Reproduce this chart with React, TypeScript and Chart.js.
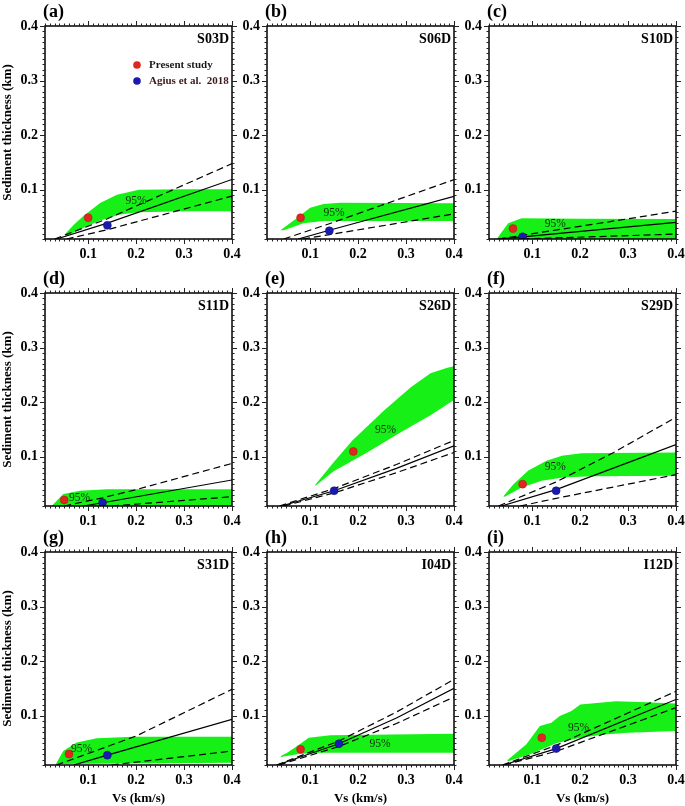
import React, { useEffect, useRef } from 'react';
import { Chart, registerables } from 'chart.js';

Chart.register(...registerables);

type Pt = [number, number];

const FONT = '"Liberation Serif", "Times New Roman", serif';
const AXIS_MIN = 0.01;
const AXIS_MAX = 0.4;
const MAJOR_TICKS = [0.1, 0.2, 0.3, 0.4];
const MINOR_STEP = 0.01;

const LETTERS = ['(a)', '(b)', '(c)', '(d)', '(e)', '(f)', '(g)', '(h)', '(i)'];
const STATIONS = ['S03D', 'S06D', 'S10D', 'S11D', 'S26D', 'S29D', 'S31D', 'I04D', 'I12D'];
const LEGEND_LABELS = ['Present study', 'Agius et al.  2018'];
const X_TITLE = 'Vs (km/s)';
const Y_TITLE = 'Sediment thickness (km)';
const CONF_LABEL = '95%';

// ---- (a) S03D
const S03D_UPPER: Pt[] = [[0.052, 0.019], [0.07, 0.036], [0.09, 0.052], [0.125, 0.076], [0.16, 0.091], [0.206, 0.1], [0.3, 0.101], [0.4, 0.101]];
const S03D_LOWER: Pt[] = [[0.4, 0.061], [0.3, 0.061], [0.206, 0.059], [0.166, 0.055], [0.125, 0.044], [0.097, 0.033], [0.055, 0.016]];
const S03D_SOLID: Pt[] = [[0.034, 0.01], [0.14, 0.039], [0.4, 0.119]];
const S03D_HI: Pt[] = [[0.03, 0.01], [0.14, 0.047], [0.4, 0.148]];
const S03D_LO: Pt[] = [[0.055, 0.01], [0.14, 0.027], [0.4, 0.0886]];
const S03D_PRESENT: Pt = [0.1, 0.049];
const S03D_AGIUS: Pt = [0.14, 0.035];
const S03D_LABEL: Pt = [0.2, 0.08];

// ---- (b) S06D
const S06D_UPPER: Pt[] = [[0.038, 0.026], [0.072, 0.048], [0.1, 0.067], [0.128, 0.074], [0.163, 0.0766], [0.4, 0.0755]];
const S06D_LOWER: Pt[] = [[0.4, 0.043], [0.128, 0.043], [0.086, 0.039], [0.045, 0.026]];
const S06D_SOLID: Pt[] = [[0.075, 0.01], [0.14, 0.026], [0.4, 0.088]];
const S06D_HI: Pt[] = [[0.045, 0.01], [0.14, 0.038], [0.4, 0.1186]];
const S06D_LO: Pt[] = [[0.085, 0.01], [0.14, 0.018], [0.4, 0.056]];
const S06D_PRESENT: Pt = [0.08, 0.049];
const S06D_AGIUS: Pt = [0.14, 0.025];
const S06D_LABEL: Pt = [0.15, 0.058];

// ---- (c) S10D
const S10D_UPPER: Pt[] = [[0.026, 0.01], [0.05, 0.039], [0.078, 0.048], [0.2, 0.047], [0.4, 0.0466]];
const S10D_LOWER: Pt[] = [[0.4, 0.01], [0.026, 0.01]];
const S10D_SOLID: Pt[] = [[0.03, 0.01], [0.08, 0.014], [0.4, 0.0405]];
const S10D_HI: Pt[] = [[0.03, 0.01], [0.3, 0.047], [0.4, 0.061]];
const S10D_LO: Pt[] = [[0.08, 0.01], [0.4, 0.019]];
const S10D_PRESENT: Pt = [0.06, 0.029];
const S10D_AGIUS: Pt = [0.08, 0.014];
const S10D_LABEL: Pt = [0.148, 0.038];

// ---- (d) S11D
const S11D_UPPER: Pt[] = [[0.024, 0.01], [0.048, 0.032], [0.083, 0.038], [0.139, 0.0405], [0.4, 0.0405]];
const S11D_LOWER: Pt[] = [[0.4, 0.01], [0.024, 0.01]];
const S11D_SOLID: Pt[] = [[0.09, 0.01], [0.13, 0.016], [0.4, 0.0576]];
const S11D_HI: Pt[] = [[0.05, 0.01], [0.13, 0.025], [0.2, 0.04], [0.4, 0.088]];
const S11D_LO: Pt[] = [[0.15, 0.01], [0.4, 0.027]];
const S11D_PRESENT: Pt = [0.05, 0.021];
const S11D_AGIUS: Pt = [0.13, 0.016];
const S11D_LABEL: Pt = [0.082, 0.024];

// ---- (e) S26D
const S26D_UPPER: Pt[] = [[0.109, 0.047], [0.149, 0.09], [0.188, 0.13], [0.254, 0.185], [0.31, 0.2275], [0.351, 0.253], [0.386, 0.263], [0.4, 0.266]];
const S26D_LOWER: Pt[] = [[0.4, 0.204], [0.351, 0.176], [0.289, 0.145], [0.219, 0.108], [0.149, 0.0735], [0.114, 0.049]];
const S26D_SOLID: Pt[] = [[0.04, 0.01], [0.15, 0.038], [0.28, 0.079], [0.4, 0.12]];
const S26D_HI: Pt[] = [[0.036, 0.01], [0.15, 0.042], [0.28, 0.086], [0.4, 0.13]];
const S26D_LO: Pt[] = [[0.045, 0.01], [0.15, 0.034], [0.28, 0.071], [0.4, 0.108]];
const S26D_PRESENT: Pt = [0.19, 0.11];
const S26D_AGIUS: Pt = [0.15, 0.038];
const S26D_LABEL: Pt = [0.257, 0.15];

// ---- (f) S29D
const S29D_UPPER: Pt[] = [[0.04, 0.028], [0.061, 0.05], [0.092, 0.075], [0.13, 0.093], [0.162, 0.102], [0.203, 0.1065], [0.4, 0.108]];
const S29D_LOWER: Pt[] = [[0.4, 0.0656], [0.231, 0.0644], [0.168, 0.0625], [0.12, 0.0564], [0.078, 0.044], [0.043, 0.027]];
const S29D_SOLID: Pt[] = [[0.036, 0.01], [0.15, 0.04], [0.4, 0.1224]];
const S29D_HI: Pt[] = [[0.03, 0.01], [0.15, 0.054], [0.27, 0.108], [0.4, 0.1725]];
const S29D_LO: Pt[] = [[0.075, 0.01], [0.15, 0.024], [0.4, 0.0674]];
const S29D_PRESENT: Pt = [0.08, 0.05];
const S29D_AGIUS: Pt = [0.15, 0.038];
const S29D_LABEL: Pt = [0.148, 0.081];

// ---- (g) S31D
const S31D_UPPER: Pt[] = [[0.033, 0.0124], [0.048, 0.0356], [0.076, 0.051], [0.118, 0.0588], [0.194, 0.0618], [0.4, 0.0618]];
const S31D_LOWER: Pt[] = [[0.4, 0.014], [0.033, 0.012]];
const S31D_SOLID: Pt[] = [[0.07, 0.01], [0.14, 0.028], [0.4, 0.0936]];
const S31D_HI: Pt[] = [[0.034, 0.01], [0.2, 0.063], [0.4, 0.1485]];
const S31D_LO: Pt[] = [[0.149, 0.01], [0.4, 0.0356]];
const S31D_PRESENT: Pt = [0.06, 0.03];
const S31D_AGIUS: Pt = [0.14, 0.028];
const S31D_LABEL: Pt = [0.086, 0.039];

// ---- (h) I04D
const I04D_UPPER: Pt[] = [[0.039, 0.0265], [0.052, 0.0326], [0.073, 0.0448], [0.097, 0.06], [0.142, 0.0643], [0.4, 0.0673]];
const I04D_LOWER: Pt[] = [[0.4, 0.0326], [0.114, 0.0326], [0.073, 0.0295], [0.039, 0.0246]];
const I04D_SOLID: Pt[] = [[0.031, 0.01], [0.16, 0.049], [0.28, 0.096], [0.4, 0.1503]];
const I04D_HI: Pt[] = [[0.03, 0.01], [0.16, 0.054], [0.28, 0.107], [0.4, 0.1668]];
const I04D_LO: Pt[] = [[0.035, 0.01], [0.16, 0.044], [0.28, 0.086], [0.4, 0.1344]];
const I04D_PRESENT: Pt = [0.08, 0.039];
const I04D_AGIUS: Pt = [0.16, 0.049];
const I04D_LABEL: Pt = [0.246, 0.049];

// ---- (i) I12D
const I12D_UPPER: Pt[] = [[0.048, 0.0186], [0.0675, 0.0327], [0.088, 0.0478], [0.116, 0.0813], [0.14, 0.0875], [0.1575, 0.0996], [0.182, 0.1087], [0.2005, 0.121], [0.275, 0.1265], [0.338, 0.125], [0.4, 0.1228]];
const I12D_LOWER: Pt[] = [[0.4, 0.0722], [0.3, 0.069], [0.25, 0.066], [0.2, 0.06], [0.15, 0.05], [0.1, 0.031], [0.05, 0.017]];
const I12D_SOLID: Pt[] = [[0.04, 0.01], [0.15, 0.04], [0.4, 0.13]];
const I12D_HI: Pt[] = [[0.038, 0.01], [0.15, 0.046], [0.4, 0.145]];
const I12D_LO: Pt[] = [[0.042, 0.01], [0.15, 0.035], [0.4, 0.115]];
const I12D_PRESENT: Pt = [0.12, 0.06];
const I12D_AGIUS: Pt = [0.15, 0.04];
const I12D_LABEL: Pt = [0.197, 0.078];

type Panel = {
  upper: Pt[]; lower: Pt[]; solid: Pt[]; hi: Pt[]; lo: Pt[];
  present: Pt; agius: Pt; label: Pt;
};

const PANELS: Panel[] = [
  { upper: S03D_UPPER, lower: S03D_LOWER, solid: S03D_SOLID, hi: S03D_HI, lo: S03D_LO, present: S03D_PRESENT, agius: S03D_AGIUS, label: S03D_LABEL },
  { upper: S06D_UPPER, lower: S06D_LOWER, solid: S06D_SOLID, hi: S06D_HI, lo: S06D_LO, present: S06D_PRESENT, agius: S06D_AGIUS, label: S06D_LABEL },
  { upper: S10D_UPPER, lower: S10D_LOWER, solid: S10D_SOLID, hi: S10D_HI, lo: S10D_LO, present: S10D_PRESENT, agius: S10D_AGIUS, label: S10D_LABEL },
  { upper: S11D_UPPER, lower: S11D_LOWER, solid: S11D_SOLID, hi: S11D_HI, lo: S11D_LO, present: S11D_PRESENT, agius: S11D_AGIUS, label: S11D_LABEL },
  { upper: S26D_UPPER, lower: S26D_LOWER, solid: S26D_SOLID, hi: S26D_HI, lo: S26D_LO, present: S26D_PRESENT, agius: S26D_AGIUS, label: S26D_LABEL },
  { upper: S29D_UPPER, lower: S29D_LOWER, solid: S29D_SOLID, hi: S29D_HI, lo: S29D_LO, present: S29D_PRESENT, agius: S29D_AGIUS, label: S29D_LABEL },
  { upper: S31D_UPPER, lower: S31D_LOWER, solid: S31D_SOLID, hi: S31D_HI, lo: S31D_LO, present: S31D_PRESENT, agius: S31D_AGIUS, label: S31D_LABEL },
  { upper: I04D_UPPER, lower: I04D_LOWER, solid: I04D_SOLID, hi: I04D_HI, lo: I04D_LO, present: I04D_PRESENT, agius: I04D_AGIUS, label: I04D_LABEL },
  { upper: I12D_UPPER, lower: I12D_LOWER, solid: I12D_SOLID, hi: I12D_HI, lo: I12D_LO, present: I12D_PRESENT, agius: I12D_AGIUS, label: I12D_LABEL },
];

// layout (pixels)
const COL_LEFT = [45, 267, 489];
const ROW_TOP = [26, 293, 552];
const PLOT_W = 187;
const PLOT_H = 213;
const PAD_L = 45;
const PAD_T = 26;
const PAD_R = 14;
const PAD_B = 43;

const GREEN = 'rgb(22,240,22)';
const RED = '#e0261f';
const BLUE = '#1a1ab0';

const toXY = (pts: Pt[]) => pts.map(([x, y]) => ({ x, y }));

const decorPlugin = {
  id: 'decor',
  afterDatasetsDraw(chart: any, _args: any, opts: any) {
    const { ctx, chartArea: a, scales } = chart;
    const xs = scales.x;
    const ys = scales.y;
    const idx: number = opts.index;
    const p: Panel = PANELS[idx];
    const col = idx % 3;
    const row = Math.floor(idx / 3);
    ctx.save();

    // frame
    ctx.strokeStyle = '#000';
    ctx.lineWidth = 1.5;
    ctx.strokeRect(a.left, a.top, a.right - a.left, a.bottom - a.top);

    // ticks on all four sides
    ctx.lineWidth = 1;
    ctx.strokeStyle = '#222';
    ctx.beginPath();
    const n = Math.round((AXIS_MAX - AXIS_MIN) / MINOR_STEP);
    for (let i = 0; i <= n; i++) {
      const v = AXIS_MIN + i * MINOR_STEP;
      const major = MAJOR_TICKS.some((m) => Math.abs(m - v) < 1e-6);
      const len = major ? 5 : 2.5;
      const px = Math.round(xs.getPixelForValue(v)) + 0.5;
      ctx.moveTo(px, a.bottom); ctx.lineTo(px, a.bottom + len);
      ctx.moveTo(px, a.top); ctx.lineTo(px, a.top - len);
      const py = Math.round(ys.getPixelForValue(v)) + 0.5;
      ctx.moveTo(a.left, py); ctx.lineTo(a.left - len, py);
      ctx.moveTo(a.right, py); ctx.lineTo(a.right + len, py);
    }
    ctx.stroke();

    ctx.fillStyle = '#000';
    ctx.textBaseline = 'middle';

    // panel letter
    ctx.font = `bold 18px ${FONT}`;
    ctx.textAlign = 'left';
    ctx.fillText(LETTERS[idx], a.left - 2, a.top - 14);

    // station label
    ctx.font = `bold 14px ${FONT}`;
    ctx.textAlign = 'right';
    ctx.fillText(STATIONS[idx], a.right - 3, a.top + 13);

    // 95% label
    ctx.font = `11.5px ${FONT}`;
    ctx.textAlign = 'center';
    ctx.fillStyle = '#142814';
    ctx.fillText(CONF_LABEL, xs.getPixelForValue(p.label[0]), ys.getPixelForValue(p.label[1]));

    // legend (first panel only)
    if (idx === 0) {
      const lx = a.left + 92;
      const ly = [a.top + 39, a.top + 55];
      const cols = [RED, BLUE];
      const tcols = ['#1a1a1a', '#3d1a1a'];
      ctx.font = `bold 11px ${FONT}`;
      ctx.textAlign = 'left';
      for (let k = 0; k < 2; k++) {
        ctx.beginPath();
        ctx.fillStyle = cols[k];
        ctx.arc(lx, ly[k], 3.8, 0, Math.PI * 2);
        ctx.fill();
        ctx.fillStyle = tcols[k];
        ctx.fillText(LEGEND_LABELS[k], lx + 12, ly[k]);
      }
    }

    ctx.fillStyle = '#000';
    // y title
    if (col === 0) {
      ctx.save();
      ctx.translate(a.left - 37, (a.top + a.bottom) / 2);
      ctx.rotate(-Math.PI / 2);
      ctx.font = `bold 13px ${FONT}`;
      ctx.textAlign = 'center';
      ctx.fillText(Y_TITLE, 0, 0);
      ctx.restore();
    }
    // x title
    if (row === 2) {
      ctx.font = `bold 13px ${FONT}`;
      ctx.textAlign = 'center';
      ctx.fillText(X_TITLE, (a.left + a.right) / 2, a.bottom + 34);
    }
    ctx.restore();
  },
};

function PanelChart({ index }: { index: number }) {
  const ref = useRef<HTMLCanvasElement | null>(null);
  const col = index % 3;
  const row = Math.floor(index / 3);
  const width = PAD_L + PLOT_W + PAD_R;
  const height = PAD_T + PLOT_H + PAD_B;

  useEffect(() => {
    if (!ref.current) return;
    const p = PANELS[index];
    const tickFont = { family: FONT, size: 14, weight: 'bold' as const };
    const chart = new Chart(ref.current, {
      type: 'line',
      data: {
        datasets: [
          {
            data: toXY([...p.upper, ...p.lower]),
            showLine: true,
            fill: 'shape',
            backgroundColor: GREEN,
            borderWidth: 0,
            borderColor: 'rgba(0,0,0,0)',
            pointRadius: 0,
            order: 3,
          },
          {
            data: toXY(p.hi), showLine: true, fill: false, borderColor: '#000', borderWidth: 1.2,
            borderDash: [7, 4], pointRadius: 0, order: 2,
          },
          {
            data: toXY(p.lo), showLine: true, fill: false, borderColor: '#000', borderWidth: 1.2,
            borderDash: [7, 4], pointRadius: 0, order: 2,
          },
          {
            data: toXY(p.solid), showLine: true, fill: false, borderColor: '#000', borderWidth: 1.2,
            pointRadius: 0, order: 2,
          },
          {
            data: toXY([p.present]), showLine: false, pointRadius: 4, pointBackgroundColor: RED,
            pointBorderColor: '#b01a14', pointBorderWidth: 0.5, order: 1,
          },
          {
            data: toXY([p.agius]), showLine: false, pointRadius: 4, pointBackgroundColor: BLUE,
            pointBorderColor: '#101070', pointBorderWidth: 0.5, order: 1,
          },
        ] as any,
      },
      options: {
        animation: false,
        responsive: false,
        maintainAspectRatio: false,
        events: [],
        layout: { padding: { top: PAD_T, right: PAD_R, left: 0, bottom: 0 } },
        scales: {
          x: {
            type: 'linear',
            min: AXIS_MIN,
            max: AXIS_MAX,
            afterBuildTicks: (s: any) => { s.ticks = MAJOR_TICKS.map((v) => ({ value: v })); },
            afterFit: (s: any) => { s.height = PAD_B; },
            grid: { display: true, drawOnChartArea: false, drawTicks: true, tickLength: 5, color: 'rgba(0,0,0,0)' },
            border: { display: false },
            ticks: {
              font: tickFont, color: '#000', padding: 2, maxRotation: 0, autoSkip: false,
              callback: (v: any) => Number(v).toFixed(1),
            },
          },
          y: {
            type: 'linear',
            min: AXIS_MIN,
            max: AXIS_MAX,
            afterBuildTicks: (s: any) => { s.ticks = MAJOR_TICKS.map((v) => ({ value: v })); },
            afterFit: (s: any) => { s.width = PAD_L; },
            grid: { display: true, drawOnChartArea: false, drawTicks: true, tickLength: 5, color: 'rgba(0,0,0,0)' },
            border: { display: false },
            ticks: {
              font: tickFont, color: '#000', padding: 2, autoSkip: false,
              callback: (v: any) => Number(v).toFixed(1),
            },
          },
        },
        plugins: {
          legend: { display: false },
          tooltip: { enabled: false },
          decor: { index },
        } as any,
      },
      plugins: [decorPlugin as any],
    });
    return () => chart.destroy();
  }, [index]);

  return (
    <canvas
      ref={ref}
      width={width}
      height={height}
      style={{
        position: 'absolute',
        left: COL_LEFT[col] - PAD_L,
        top: ROW_TOP[row] - PAD_T,
        width,
        height,
      }}
    />
  );
}

export default function App() {
  return (
    <div
      style={{
        position: 'absolute',
        left: 0,
        top: 0,
        width: 685,
        height: 806,
        overflow: 'hidden',
        background: '#fff',
      }}
    >
      {PANELS.map((_, i) => (
        <PanelChart key={i} index={i} />
      ))}
    </div>
  );
}
